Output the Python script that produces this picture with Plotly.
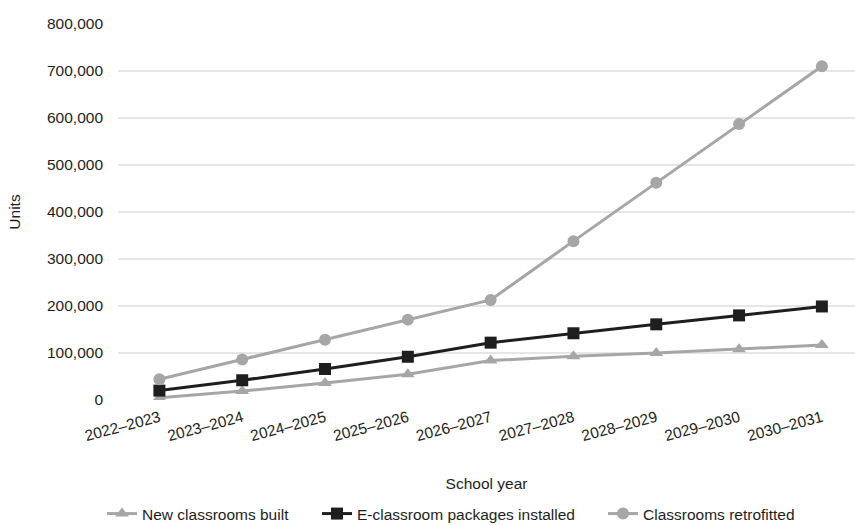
import plotly.graph_objects as go

# School years on the category axis
school_years = ["2022–2023", "2023–2024", "2024–2025", "2025–2026", "2026–2027",
                "2027–2028", "2028–2029", "2029–2030", "2030–2031"]

# Cumulative units per series
new_classrooms_built = [5000, 19000, 36000, 55000, 84000, 93000, 100000, 108000, 117000]
e_classroom_packages = [20000, 42000, 66000, 92000, 122000, 142000, 161000, 180000, 199000]
classrooms_retrofitted = [44000, 86000, 128000, 171000, 213000, 338000, 462000, 587000, 710000]

y_ticks = [0, 100000, 200000, 300000, 400000, 500000, 600000, 700000, 800000]

GREY = "#A6A6A6"
DARK = "#1E1E1E"
FONT = "Liberation Sans, Arial, sans-serif"
FS = 15.5

fig = go.Figure()
fig.add_trace(go.Scatter(
    x=school_years, y=new_classrooms_built, name="New classrooms built",
    mode="lines+markers", line=dict(color=GREY, width=3),
    marker=dict(symbol="triangle-up", size=12, color=GREY), legend="legend"))
fig.add_trace(go.Scatter(
    x=school_years, y=e_classroom_packages, name="E-classroom packages installed",
    mode="lines+markers", line=dict(color=DARK, width=3),
    marker=dict(symbol="square", size=12, color=DARK), legend="legend2"))
fig.add_trace(go.Scatter(
    x=school_years, y=classrooms_retrofitted, name="Classrooms retrofitted",
    mode="lines+markers", line=dict(color=GREY, width=3),
    marker=dict(symbol="circle", size=12, color=GREY), legend="legend3"))

legend_common = dict(orientation="h", xanchor="left", yanchor="middle",
                     xref="container", yref="container", y=(525 - 514) / 525,
                     font=dict(family=FONT, size=FS, color=DARK),
                     bgcolor="rgba(0,0,0,0)", borderwidth=0,
                     itemwidth=30, tracegroupgap=0)

fig.update_layout(
    width=855, height=525,
    margin=dict(l=118, r=0, t=24, b=125),
    paper_bgcolor="white", plot_bgcolor="white",
    font=dict(family=FONT, size=FS, color=DARK),
    showlegend=True,
    legend=dict(legend_common, x=102 / 855),
    legend2=dict(legend_common, x=317 / 855),
    legend3=dict(legend_common, x=603 / 855),
    xaxis=dict(
        type="category", range=[-0.5, 8.4],
        tickangle=-15, showgrid=False, zeroline=False, showline=False,
        ticks="", ticklabelstandoff=5,
        tickfont=dict(size=FS, color=DARK),
        title=dict(text="School year", font=dict(size=FS, color=DARK), standoff=34),
    ),
    yaxis=dict(
        range=[0, 800000], tickvals=y_ticks, tickformat=",",
        showgrid=True, gridcolor="#E6E6E6", gridwidth=2,
        zeroline=False, showline=False, ticks="",
        ticklabelstandoff=14,
        tickfont=dict(size=FS, color=DARK),
        title=dict(text="Units", font=dict(size=FS, color=DARK), standoff=22),
    ),
)

fig.write_html("out.html")
